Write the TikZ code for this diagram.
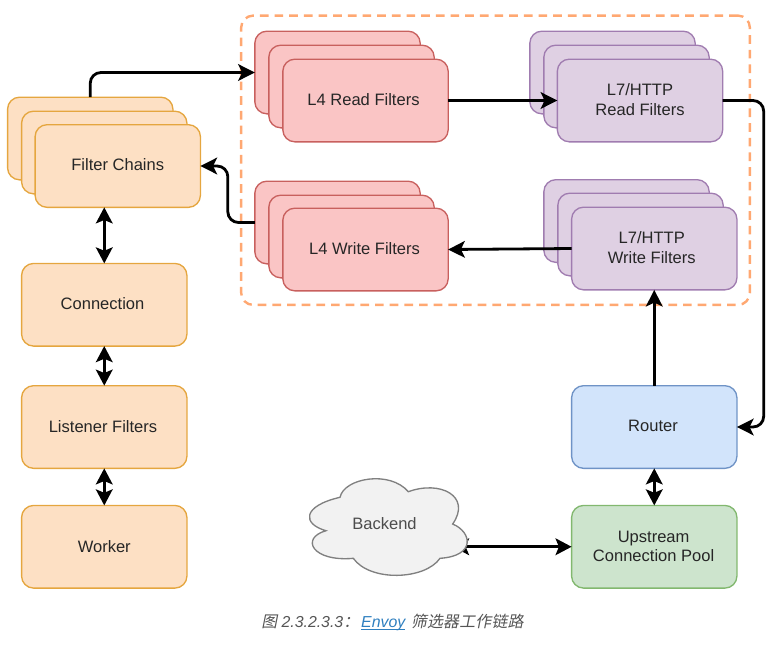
\documentclass[tikz,border=0pt]{standalone}
\usepackage{fontspec}
\setmainfont{Liberation Sans}
\newfontfamily\cjk[FakeSlant=0.2]{Noto Sans CJK SC}
\usetikzlibrary{arrows.meta}
\definecolor{orfill}{HTML}{FDE0C4}
\definecolor{ordraw}{HTML}{E5A63F}
\definecolor{pkfill}{HTML}{FAC5C5}
\definecolor{pkdraw}{HTML}{C8605E}
\definecolor{pufill}{HTML}{DFD0E3}
\definecolor{pudraw}{HTML}{A07CB0}
\definecolor{blfill}{HTML}{D2E4FB}
\definecolor{bldraw}{HTML}{6F93C6}
\definecolor{grfill}{HTML}{CDE4CD}
\definecolor{grdraw}{HTML}{82B86F}
\definecolor{clfill}{HTML}{F2F2F2}
\definecolor{cldraw}{HTML}{808080}
\definecolor{dashcol}{HTML}{FFA872}
\definecolor{captxt}{HTML}{555555}
\definecolor{linkcol}{HTML}{2F7FBF}
\newcommand\tl[1]{\hspace*{#1}}
\newcommand\ee{\rule[-1.5pt]{0pt}{1pt}}
\tikzset{
  box/.style={draw,rounded corners=9pt,line width=1pt,minimum width=124pt,minimum height=62pt,
    inner sep=0pt,outer sep=0pt,align=center,font=\fontsize{12.4}{14.3}\selectfont,text=black!85},
  orbox/.style={box,fill=orfill,draw=ordraw},
  pkbox/.style={box,fill=pkfill,draw=pkdraw},
  pubox/.style={box,fill=pufill,draw=pudraw},
  blbox/.style={box,fill=blfill,draw=bldraw},
  grbox/.style={box,fill=grfill,draw=grdraw},
  conn/.style={draw=black,line width=2.1pt,rounded corners=8pt,-{Stealth[length=12.5pt,width=12.5pt,inset=3pt]}},
  dconn/.style={draw=black,line width=2.1pt,{Stealth[length=12pt,width=12.5pt,inset=2.5pt]}-{Stealth[length=12pt,width=12.5pt,inset=2.5pt]}},
  groupbox/.style={draw=dashcol,line width=1.8pt,rounded corners=9pt,dash pattern=on 6.5pt off 4.5pt,
    minimum width=381.5pt,minimum height=217pt,inner sep=0pt,outer sep=0pt},
}
\begin{document}
\begin{tikzpicture}[x=0.75pt,y=-0.75pt]
\path[use as bounding box] (0,0) rectangle (780,647);
% dashed group
\node[groupbox] (group) at (495.5,160.25) {};
% filter chains
\node[orbox] (fcb) at (90.25,138.5) {};
\node[orbox] (fcm) at (104.25,152.5) {};
\node[orbox] (fcf) at (117.75,166) {Filter Chains\ee};
\node[orbox] (conn) at (104.25,304.75) {Connection\tl{2.6pt}\ee};
\node[orbox] (lis) at (104.25,427) {Listener Filters\tl{1.9pt}\ee};
\node[orbox] (wrk) at (104.25,546.75) {Worker};
% L4 read
\node[pkbox] (l4rb) at (337.5,72.5) {};
\node[pkbox] (l4rm) at (351.5,86.5) {};
\node[pkbox] (l4rf) at (365.5,100.5) {L4 Read Filters\tl{3pt}\ee};
% L4 write
\node[pkbox] (l4wb) at (337.5,222.5) {};
\node[pkbox] (l4wm) at (351.5,236.5) {};
\node[pkbox] (l4wf) at (365.5,249.5) {L4 Write Filters\tl{1.5pt}\ee};
% L7 read
\node[pubox] (l7rb) at (612.5,72.5) {};
\node[pubox] (l7rm) at (626.5,86.5) {};
\node[pubox] (l7rf) at (640,100.5) {L7/HTTP\\Read Filters\ee};
% L7 write
\node[pubox] (l7wb) at (626.5,221) {};
\node[pubox] (l7wm) at (640.5,234.5) {};
\node[pubox] (l7wf) at (654.25,248.5) {L7/HTTP\tl{3.75pt}\\Write Filters\tl{3.75pt}\ee};
% router, upstream
\node[blbox] (router) at (654.25,427) {Router\tl{1.9pt}\ee};
\node[grbox] (up) at (654.25,546.75) {Upstream\tl{1pt}\\Connection Pool\tl{1pt}};
% connectors
\coordinate (cloudport) at (453,546.75);
\draw[dconn] (cloudport) -- (up.west);
\path[draw=cldraw,fill=clfill,line width=1pt]
  (326,530.7)
  .. controls (302,524) and (302,506) .. (340,497.3)
  .. controls (344,478) and (390,470) .. (408.3,491.7)
  .. controls (440,480) and (472,496) .. (452.7,524)
  .. controls (472,532) and (476,556) .. (440,558.3)
  .. controls (425,580) and (370,582) .. (353.3,558.3)
  .. controls (312,562) and (300,538) .. (326,530.7) -- cycle;
\node[font=\fontsize{12.4}{14.3}\selectfont,text=black!70,inner sep=0pt] (cloud) at (384.5,524) {Backend};
\draw[conn] (fcb.north) |- (l4rb.west);
\draw[conn] (l4rf.east) -- (l7rf.west);
\draw[conn] (l7rf.east) -- ++(41,0) |- (router.east);
\draw[conn] (router.north) -- (l7wf.south);
\draw[conn] (l7wf.west) -- (l4wf.east);
\draw[conn] (l4wb.west) -- ++(-27,0) |- (fcf.east);
\draw[dconn] (conn.north) -- (conn.north |- fcf.south);
\draw[dconn] (lis.north) -- (conn.south);
\draw[dconn] (wrk.north) -- (lis.south);
\draw[dconn] (up.north) -- (router.south);
% caption
\node[font=\fontsize{11.9}{14}\selectfont\itshape,text=captxt,inner sep=0pt,anchor=west] (cap) at (261,622)
  {{\cjk 图} 2.3.2.3.3{\cjk ：}\kern1.5pt\textcolor{linkcol}{\underline{\smash{Envoy}}}\kern1pt\ {\cjk\addfontfeature{LetterSpace=1.5} 筛选器工作链路}};
\end{tikzpicture}
\end{document}
